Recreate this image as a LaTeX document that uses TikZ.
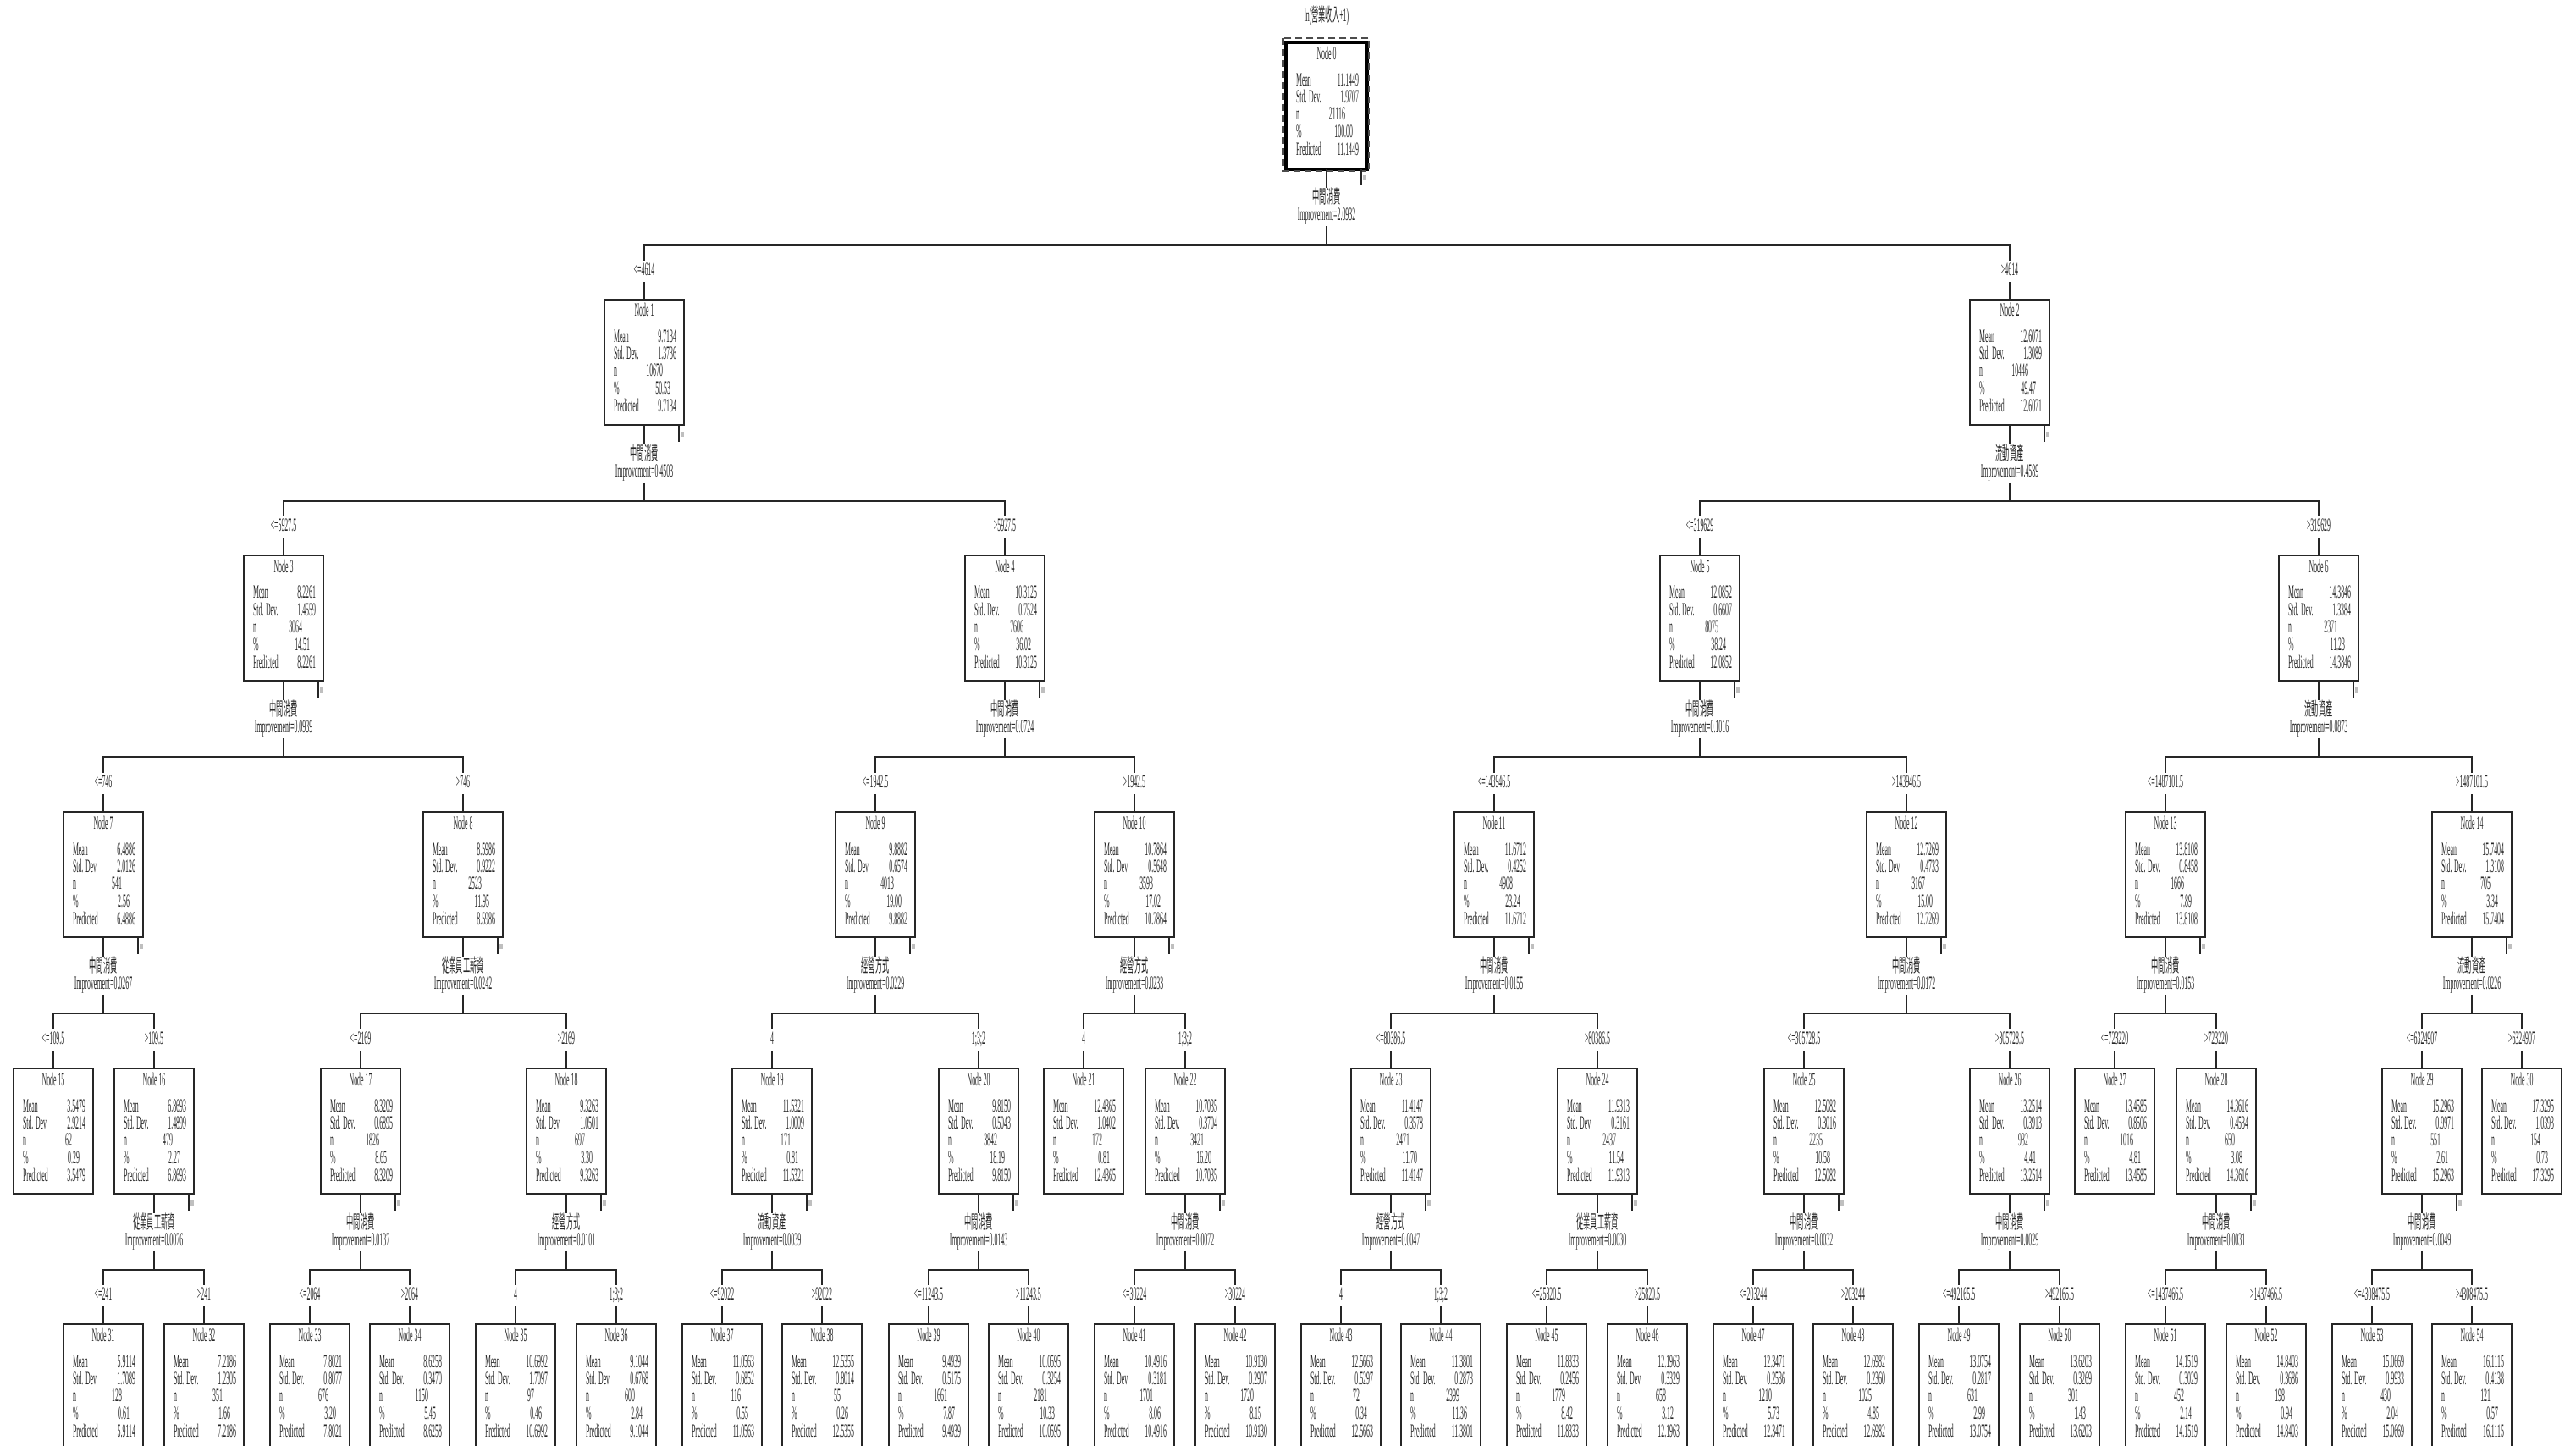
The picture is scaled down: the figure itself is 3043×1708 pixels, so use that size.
\documentclass[tikz,border=0pt]{standalone}
\usepackage{fontspec}
\setmainfont{Liberation Serif}[FakeStretch=0.355]
\newfontfamily\cjk{Noto Sans CJK TC}[FakeStretch=0.37]

\newcommand{\statrow}[2]{\hbox to 7.4mm{#1\hfill#2}}
\newcommand{\treebox}[7]{%
  \node[nbox] (n#1) at (#2,#3+74) {};
  \node[ntxt] (n#1h) at (#2,#3+20) {Node #1};
  \node[ntxt] (n#1m) at (#2+1,#3+51) {\statrow{Mean}{#4}};
  \node[ntxt] (n#1s) at (#2+1,#3+71) {\statrow{Std. Dev.}{#5}};
  \node[ntxt] (n#1n) at (#2+1,#3+91) {\statrow{n}{#6\hspace{1.6mm}}};
  \node[ntxt] (n#1p) at (#2+1,#3+112) {\statrow{\%}{#7\hspace{0.7mm}}};
  \node[ntxt] (n#1r) at (#2+1,#3+133) {\statrow{Predicted}{#4}};
}
\newcommand{\splitnode}[3]{%
  \node[stxt] (s#1) at ([yshift=-4mm]n#1.south) {{\cjk #2}};
  \node[stxt] (i#1) at ([yshift=-6mm]n#1.south) {Improvement=#3};
  \coordinate (b#1) at ([yshift=-8.9mm]n#1.south);
  \draw[conn] (n#1.south) -- (s#1.north);
  \draw[conn] (i#1.south) -- (b#1);
  \draw[conn] ([xshift=-0.7mm]n#1.south east) -- ++(0,19);
  \fill[black!25] ([xshift=-0.5mm,yshift=-0.7mm]n#1.south east) rectangle ++(4,6);
}
\newcommand{\branch}[3]{%
  \node[stxt] (l#1) at ([yshift=2.7mm]n#1.north) {#3};
  \draw[conn] (n#1.north) -- (l#1.south);
  \draw[conn] (l#1.north) |- (b#2);
}

\begin{document}
\begin{tikzpicture}[x=0.1mm, y=-0.1mm,
  every node/.append style={font=\fontsize{6.3pt}{6.3pt}\selectfont, text=black!85},
  nbox/.style={draw=black!85, line width=0.6pt, minimum width=9.4mm, minimum height=14.8mm, inner sep=0pt},
  ntxt/.style={anchor=base, inner sep=0pt},
  stxt/.style={anchor=base, inner sep=0.15mm, text height=1.6mm, text depth=0.45mm},
  conn/.style={draw=black!85, line width=0.6pt}]
  \useasboundingbox (0,0) rectangle (3043,1708);
  \clip (0,0) rectangle (3043,1708);
  \fill[white] (0,0) rectangle (3043,1708);

  \node[stxt] (title) at (1567,26) {ln({\cjk 營業收入}+1)};

  \treebox{0}{1567}{51}{11.1449}{1.9707}{21116}{100.00}
  \draw[line width=1.3pt] (n0.north west) rectangle (n0.south east);
  \draw[black!70, line width=0.5pt, dash pattern=on 0.8mm off 0.5mm] ([xshift=-0.3mm,yshift=0.5mm]n0.north west) rectangle ([xshift=0.2mm,yshift=-0.2mm]n0.south east);

  \treebox{1}{761}{354}{9.7134}{1.3736}{10670}{50.53}
  \treebox{2}{2374}{354}{12.6071}{1.3089}{10446}{49.47}

  \treebox{3}{335}{656}{8.2261}{1.4559}{3064}{14.51}
  \treebox{4}{1187}{656}{10.3125}{0.7524}{7606}{36.02}
  \treebox{5}{2008}{656}{12.0852}{0.6607}{8075}{38.24}
  \treebox{6}{2739}{656}{14.3846}{1.3384}{2371}{11.23}

  \treebox{7}{122}{959}{6.4886}{2.0126}{541}{2.56}
  \treebox{8}{547}{959}{8.5986}{0.9222}{2523}{11.95}
  \treebox{9}{1034}{959}{9.8882}{0.6574}{4013}{19.00}
  \treebox{10}{1340}{959}{10.7864}{0.5648}{3593}{17.02}
  \treebox{11}{1765}{959}{11.6712}{0.4252}{4908}{23.24}
  \treebox{12}{2252}{959}{12.7269}{0.4733}{3167}{15.00}
  \treebox{13}{2558}{959}{13.8108}{0.8458}{1666}{7.89}
  \treebox{14}{2920}{959}{15.7404}{1.3108}{705}{3.34}

  \treebox{15}{63}{1262}{3.5479}{2.9214}{62}{0.29}
  \treebox{16}{182}{1262}{6.8693}{1.4899}{479}{2.27}
  \treebox{17}{426}{1262}{8.3209}{0.6895}{1826}{8.65}
  \treebox{18}{669}{1262}{9.3263}{1.0501}{697}{3.30}
  \treebox{19}{912}{1262}{11.5321}{1.0009}{171}{0.81}
  \treebox{20}{1156}{1262}{9.8150}{0.5043}{3842}{18.19}
  \treebox{21}{1280}{1262}{12.4365}{1.0402}{172}{0.81}
  \treebox{22}{1400}{1262}{10.7035}{0.3704}{3421}{16.20}
  \treebox{23}{1643}{1262}{11.4147}{0.3578}{2471}{11.70}
  \treebox{24}{1887}{1262}{11.9313}{0.3161}{2437}{11.54}
  \treebox{25}{2131}{1262}{12.5082}{0.3016}{2235}{10.58}
  \treebox{26}{2374}{1262}{13.2514}{0.3913}{932}{4.41}
  \treebox{27}{2498}{1262}{13.4585}{0.8506}{1016}{4.81}
  \treebox{28}{2618}{1262}{14.3616}{0.4534}{650}{3.08}
  \treebox{29}{2861}{1262}{15.2963}{0.9971}{551}{2.61}
  \treebox{30}{2979}{1262}{17.3295}{1.0393}{154}{0.73}

  \treebox{31}{122}{1564}{5.9114}{1.7089}{128}{0.61}
  \treebox{32}{241}{1564}{7.2186}{1.2305}{351}{1.66}
  \treebox{33}{366}{1564}{7.8021}{0.8077}{676}{3.20}
  \treebox{34}{484}{1564}{8.6258}{0.3470}{1150}{5.45}
  \treebox{35}{609}{1564}{10.6992}{1.7097}{97}{0.46}
  \treebox{36}{728}{1564}{9.1044}{0.6768}{600}{2.84}
  \treebox{37}{853}{1564}{11.0563}{0.6852}{116}{0.55}
  \treebox{38}{971}{1564}{12.5355}{0.8014}{55}{0.26}
  \treebox{39}{1097}{1564}{9.4939}{0.5175}{1661}{7.87}
  \treebox{40}{1215}{1564}{10.0595}{0.3254}{2181}{10.33}
  \treebox{41}{1340}{1564}{10.4916}{0.3181}{1701}{8.06}
  \treebox{42}{1459}{1564}{10.9130}{0.2907}{1720}{8.15}
  \treebox{43}{1584}{1564}{12.5663}{0.5297}{72}{0.34}
  \treebox{44}{1702}{1564}{11.3801}{0.2873}{2399}{11.36}
  \treebox{45}{1827}{1564}{11.8333}{0.2456}{1779}{8.42}
  \treebox{46}{1946}{1564}{12.1963}{0.3329}{658}{3.12}
  \treebox{47}{2071}{1564}{12.3471}{0.2536}{1210}{5.73}
  \treebox{48}{2189}{1564}{12.6982}{0.2360}{1025}{4.85}
  \treebox{49}{2314}{1564}{13.0754}{0.2817}{631}{2.99}
  \treebox{50}{2433}{1564}{13.6203}{0.3269}{301}{1.43}
  \treebox{51}{2558}{1564}{14.1519}{0.3029}{452}{2.14}
  \treebox{52}{2677}{1564}{14.8403}{0.3686}{198}{0.94}
  \treebox{53}{2802}{1564}{15.0669}{0.9933}{430}{2.04}
  \treebox{54}{2920}{1564}{16.1115}{0.4138}{121}{0.57}

  \splitnode{0}{中間消費}{2.0932}
  \splitnode{1}{中間消費}{0.4503}
  \splitnode{2}{流動資產}{0.4589}
  \splitnode{3}{中間消費}{0.0939}
  \splitnode{4}{中間消費}{0.0724}
  \splitnode{5}{中間消費}{0.1016}
  \splitnode{6}{流動資產}{0.0873}
  \splitnode{7}{中間消費}{0.0267}
  \splitnode{8}{從業員工薪資}{0.0242}
  \splitnode{9}{經營方式}{0.0229}
  \splitnode{10}{經營方式}{0.0233}
  \splitnode{11}{中間消費}{0.0155}
  \splitnode{12}{中間消費}{0.0172}
  \splitnode{13}{中間消費}{0.0153}
  \splitnode{14}{流動資產}{0.0226}
  \splitnode{16}{從業員工薪資}{0.0076}
  \splitnode{17}{中間消費}{0.0137}
  \splitnode{18}{經營方式}{0.0101}
  \splitnode{19}{流動資產}{0.0039}
  \splitnode{20}{中間消費}{0.0143}
  \splitnode{22}{中間消費}{0.0072}
  \splitnode{23}{經營方式}{0.0047}
  \splitnode{24}{從業員工薪資}{0.0030}
  \splitnode{25}{中間消費}{0.0032}
  \splitnode{26}{中間消費}{0.0029}
  \splitnode{28}{中間消費}{0.0031}
  \splitnode{29}{中間消費}{0.0049}

  \branch{1}{0}{<=4614}
  \branch{2}{0}{>4614}
  \branch{3}{1}{<=5927.5}
  \branch{4}{1}{>5927.5}
  \branch{5}{2}{<=319629}
  \branch{6}{2}{>319629}
  \branch{7}{3}{<=746}
  \branch{8}{3}{>746}
  \branch{9}{4}{<=1942.5}
  \branch{10}{4}{>1942.5}
  \branch{11}{5}{<=143946.5}
  \branch{12}{5}{>143946.5}
  \branch{13}{6}{<=1487101.5}
  \branch{14}{6}{>1487101.5}
  \branch{15}{7}{<=109.5}
  \branch{16}{7}{>109.5}
  \branch{17}{8}{<=2169}
  \branch{18}{8}{>2169}
  \branch{19}{9}{4}
  \branch{20}{9}{1;3;2}
  \branch{21}{10}{4}
  \branch{22}{10}{1;3;2}
  \branch{23}{11}{<=80386.5}
  \branch{24}{11}{>80386.5}
  \branch{25}{12}{<=305728.5}
  \branch{26}{12}{>305728.5}
  \branch{27}{13}{<=723220}
  \branch{28}{13}{>723220}
  \branch{29}{14}{<=6324907}
  \branch{30}{14}{>6324907}
  \branch{31}{16}{<=241}
  \branch{32}{16}{>241}
  \branch{33}{17}{<=2064}
  \branch{34}{17}{>2064}
  \branch{35}{18}{4}
  \branch{36}{18}{1;3;2}
  \branch{37}{19}{<=92022}
  \branch{38}{19}{>92022}
  \branch{39}{20}{<=11243.5}
  \branch{40}{20}{>11243.5}
  \branch{41}{22}{<=30224}
  \branch{42}{22}{>30224}
  \branch{43}{23}{4}
  \branch{44}{23}{1;3;2}
  \branch{45}{24}{<=25820.5}
  \branch{46}{24}{>25820.5}
  \branch{47}{25}{<=203244}
  \branch{48}{25}{>203244}
  \branch{49}{26}{<=492165.5}
  \branch{50}{26}{>492165.5}
  \branch{51}{28}{<=1437466.5}
  \branch{52}{28}{>1437466.5}
  \branch{53}{29}{<=4308475.5}
  \branch{54}{29}{>4308475.5}
\end{tikzpicture}
\end{document}
